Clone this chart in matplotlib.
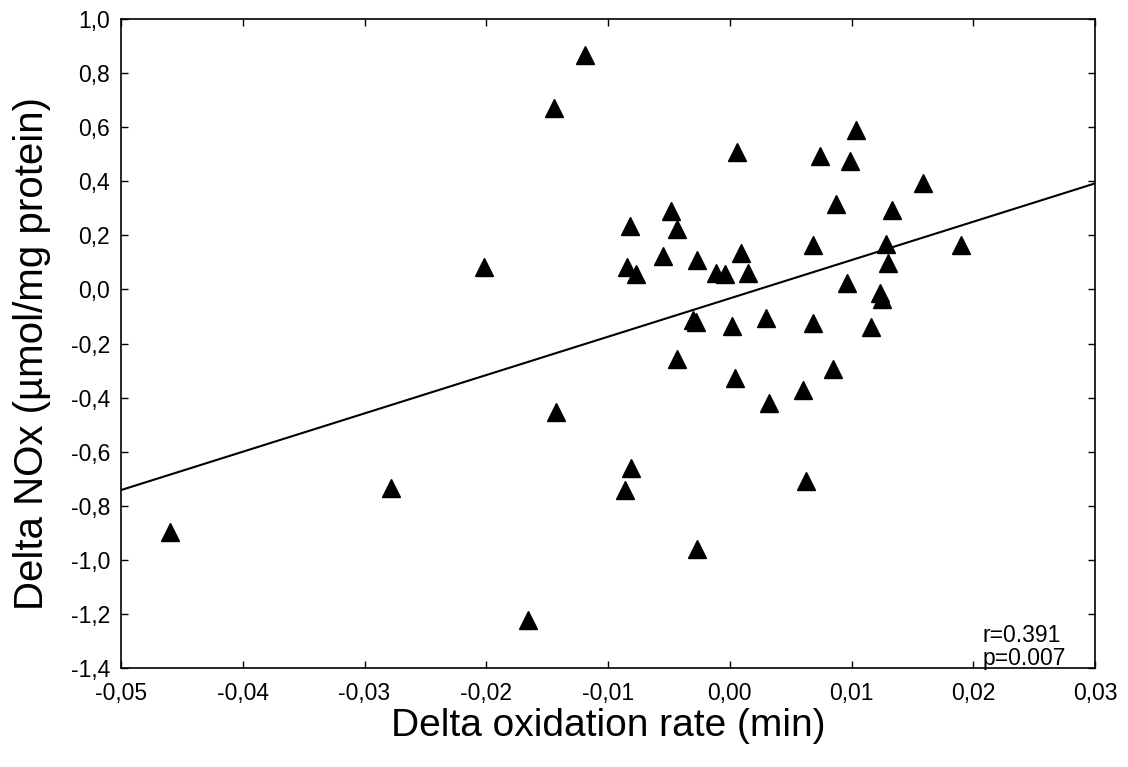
import matplotlib
matplotlib.use("Agg")
import matplotlib.pyplot as plt

# Delta oxidation rate (min) vs Delta NOx (umol/mg protein)
delta_ox = [-0.0460, -0.0278, -0.0202, -0.0166, -0.0119, -0.0144, -0.0143,
            -0.0082, -0.0084, -0.0077, -0.0086, -0.0081, -0.0048, -0.0043,
            -0.0055, -0.0027, -0.0030, -0.0028, -0.0043, -0.0027, -0.0011,
            -0.0004, 0.0006, 0.0009, 0.0015, 0.0002, 0.0004, 0.0030, 0.0032,
            0.0068, 0.0068, 0.0074, 0.0063, 0.0060, 0.0087, 0.0085, 0.0099,
            0.0104, 0.0096, 0.0116, 0.0128, 0.0130, 0.0123, 0.0125, 0.0133,
            0.0159, 0.0190]
delta_nox = [-0.897, -0.733, 0.084, -1.223, 0.867, 0.670, -0.452,
             0.236, 0.084, 0.057, -0.742, -0.661, 0.291, 0.222,
             0.125, 0.109, -0.113, -0.120, -0.259, -0.960, 0.060,
             0.056, 0.509, 0.136, 0.060, -0.135, -0.329, -0.107, -0.419,
             0.163, -0.123, 0.493, -0.707, -0.372, 0.315, -0.293, 0.476,
             0.589, 0.025, -0.138, 0.168, 0.097, -0.014, -0.035, 0.294,
             0.392, 0.163]

# regression line end points
fit_x = [-0.05, 0.03]
fit_y = [-0.742, 0.392]

x_ticks = [-0.05, -0.04, -0.03, -0.02, -0.01, 0.0, 0.01, 0.02, 0.03]
x_tick_labels = ['-0,05', '-0,04', '-0,03', '-0,02', '-0,01', '0,00', '0,01', '0,02', '0,03']
y_ticks = [-1.4, -1.2, -1.0, -0.8, -0.6, -0.4, -0.2, 0.0, 0.2, 0.4, 0.6, 0.8, 1.0]
y_tick_labels = ['-1,4', '-1,2', '-1,0', '-0,8', '-0,6', '-0,4', '-0,2', '0,0',
                 '0,2', '0,4', '0,6', '0,8', '1,0']

plt.rcParams['font.family'] = ['Liberation Sans', 'DejaVu Sans']

fig = plt.figure(figsize=(11.28, 7.67), dpi=100)
ax = fig.add_axes([121 / 1128, 1 - 668 / 767, 974 / 1128, 649 / 767])

ax.plot(fit_x, fit_y, color='black', linewidth=1.5, zorder=2)
ax.plot(delta_ox, delta_nox, linestyle='none', marker='^', markersize=13,
        color='black', markeredgewidth=1, zorder=3)

ax.set_xlim(-0.05, 0.03)
ax.set_ylim(-1.4, 1.0)
ax.set_xticks(x_ticks)
ax.set_xticklabels(x_tick_labels)
ax.set_yticks(y_ticks)
ax.set_yticklabels(y_tick_labels)
ax.tick_params(direction='in', length=5, width=1, top=True, right=True,
               labelsize=16.5)
ax.tick_params(axis='x', pad=10)
ax.tick_params(axis='y', pad=8)
for sp in ax.spines.values():
    sp.set_linewidth(1.2)

# correlation stats, bottom right
ax.text((983 - 121) / 974, (668 - 636) / 649, 'r=0.391', transform=ax.transAxes,
        ha='left', va='center', fontsize=16.5)
ax.text((983 - 121) / 974, (668 - 659) / 649, 'p=0.007', transform=ax.transAxes,
        ha='left', va='center', fontsize=16.5)

fig.text(608 / 1128, 1 - 726 / 767, 'Delta oxidation rate (min)',
         ha='center', va='center', fontsize=28)
fig.text(32 / 1128, 1 - 353 / 767, 'Delta NOx (\u00b5mol/mg protein)',
         ha='center', va='center', rotation=90, fontsize=29)

fig.savefig('out.png', dpi=100)
